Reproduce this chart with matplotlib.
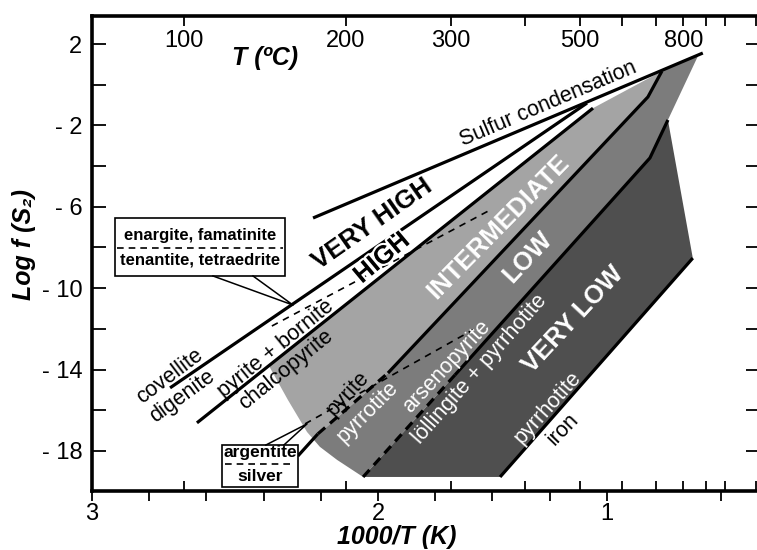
import numpy as np
import matplotlib
matplotlib.use('Agg')
import matplotlib.pyplot as plt
import matplotlib.patches as mpatches
import matplotlib.patheffects as pe

plt.rcParams['font.family'] = ['Liberation Sans', 'DejaVu Sans']

# ---- data: x = 1000/T (K), y = log f(S2) ----
# filled fields (intermediate, low, very low sulfidation)
inter_x = [2.381, 1.248, 1.007, 1.056, 1.965, 2.227, 2.248, 2.315]
inter_y = [-13.82, -1.15, 0.67, -0.60, -14.17, -17.41, -17.07, -15.49]
low_x = [2.227, 1.965, 1.056, 1.007, 0.881, 0.986, 1.049, 1.731, 2.052, 2.143, 2.203]
low_y = [-17.41, -14.17, -0.60, 0.67, 1.41, -1.73, -3.60, -14.27, -19.28, -18.44, -17.80]
vlow_x = [2.052, 1.731, 1.049, 0.986, 0.899, 1.573]
vlow_y = [-19.28, -14.27, -3.60, -1.73, -8.52, -19.28]

# solid reaction lines
sulfur_x = [2.227, 0.864]
sulfur_y = [-6.55, 1.56]
cv_dg_x = [2.727, 1.269]
cv_dg_y = [-14.90, -0.90]
bn_cp_x = [2.633, 1.248]
bn_cp_y = [-16.62, -1.15]
py_po_x = [1.965, 1.056, 1.007]
py_po_y = [-14.17, -0.60, 0.67]
lo_po_x = [1.731, 1.049, 0.986]
lo_po_y = [-14.27, -3.60, -1.73]
po_fe_x = [1.573, 0.899]
po_fe_y = [-19.28, -8.52]
arg_x = [2.280, 2.210]
arg_y = [-18.25, -17.16]

# dashed reaction lines
arg_dash_x = [2.210, 1.965]
arg_dash_y = [-17.16, -14.17]
lo_dash_x = [2.052, 1.731]
lo_dash_y = [-19.28, -14.27]
en_tn_x = [2.371, 1.608]
en_tn_y = [-11.86, -6.16]
aspy_x = [2.255, 1.668]
aspy_y = [-16.67, -12.05]

# axis ticks
x_ticks = [3.0, 2.8, 2.6, 2.4, 2.2, 2.0, 1.8, 1.6, 1.4, 1.2, 0.8]
x_labels = ['3', '', '', '', '', '2', '', '', '', '1', '']
y_ticks = [2, 0, -2, -4, -6, -8, -10, -12, -14, -16, -18]
y_labels = ['2', '', '- 2', '', '- 6', '', '- 10', '', '- 14', '', '- 18']
t_ticks = [100, 200, 300, 400, 500, 600, 700, 800, 900, 1000, 1200]
t_labels = [100, 200, 300, 500, 800]


def x_to_t(x):
    x = np.asarray(x, dtype=float)
    with np.errstate(divide='ignore'):
        return 1000.0 / x - 273.15


def t_to_x(t):
    t = np.asarray(t, dtype=float)
    with np.errstate(divide='ignore'):
        return 1000.0 / (t + 273.15)


fig = plt.figure(figsize=(7.57, 5.5), dpi=100)
ax = fig.add_axes([92 / 757, 59 / 550, 668 / 757, 475 / 550])
ax.set_xlim(3, 0.664)
ax.set_ylim(-19.97, 3.38)

for s in ax.spines.values():
    s.set_linewidth(2.6)

# fields
ax.fill(inter_x, inter_y, color='#a4a4a4', lw=0, zorder=1)
ax.fill(low_x, low_y, color='#7c7c7c', lw=0, zorder=1)
ax.fill(vlow_x, vlow_y, color='#4f4f4f', lw=0, zorder=1)

# solid lines
for xs, ys in [(sulfur_x, sulfur_y), (cv_dg_x, cv_dg_y), (bn_cp_x, bn_cp_y),
               (py_po_x, py_po_y), (lo_po_x, lo_po_y), (po_fe_x, po_fe_y),
               (arg_x, arg_y)]:
    ax.plot(xs, ys, color='black', lw=2.3, solid_capstyle='butt', zorder=3)

# thick dashed lines
for xs, ys in [(arg_dash_x, arg_dash_y), (lo_dash_x, lo_dash_y)]:
    ax.plot(xs, ys, color='black', lw=2.3, dashes=(3, 2), zorder=3)

# thin dashed lines
for xs, ys in [(en_tn_x, en_tn_y), (aspy_x, aspy_y)]:
    ax.plot(xs, ys, color='black', lw=1.2, dashes=(4, 3.5), zorder=3)

# ticks
ax.set_xticks(x_ticks)
ax.set_xticklabels(x_labels)
ax.set_yticks(y_ticks)
ax.set_yticklabels(y_labels)
ax.tick_params(axis='x', direction='out', length=7, width=1.3, labelsize=17, pad=2)
ax.tick_params(axis='y', direction='in', length=10, width=1.3, labelsize=17, pad=7,
               left=True, right=True)

# temperature ticks, top and bottom (pointing inward)
for loc in ['top', 'bottom']:
    sec = ax.secondary_xaxis(loc, functions=(x_to_t, t_to_x))
    sec.set_xticks(t_ticks)
    sec.set_xticklabels([])
    sec.tick_params(direction='in', length=7, width=1.3)
    for s in sec.spines.values():
        s.set_visible(False)

for t in t_labels:
    ax.text(t_to_x(t), 0.947, str(t), transform=ax.get_xaxis_transform(),
            ha='center', va='center', fontsize=17)

ax.text(2.395, 0.912, 'T (ºC)', transform=ax.get_xaxis_transform(),
        ha='center', va='center', fontsize=18, fontweight='bold', style='italic')
fig.text(397 / 757, 1 - 537 / 550, '1000/T (K)', ha='center', va='center',
         fontsize=18, fontweight='bold', style='italic')
fig.text(24 / 757, 1 - 245 / 550, 'Log f (S\u2082)', ha='center', va='center',
         rotation=90, fontsize=18, fontweight='bold', style='italic')

# field names
halo = [pe.withStroke(linewidth=3, foreground='white')]
big = dict(ha='center', va='center', rotation_mode='anchor', fontweight='bold',
           fontsize=18.5, zorder=5)
ax.text(2.021, -6.85, 'VERY HIGH', rotation=35, color='black', **big)
ax.text(1.986, -8.52, 'HIGH', rotation=40, color='black', path_effects=halo, **big)
ax.text(1.580, -6.99, 'INTERMEDIATE', rotation=45.5, color='white', **big)
ax.text(1.476, -8.47, 'LOW', rotation=47, color='white', **big)
ax.text(1.318, -11.56, 'VERY LOW', rotation=47, color='white', **big)

# mineral names
small = dict(ha='center', va='center', rotation_mode='anchor', fontsize=15.5, zorder=5)
ax.text(1.406, -0.95, 'Sulfur condensation', rotation=23, color='black', fontsize=15.5,
        ha='center', va='center', rotation_mode='anchor', zorder=5)
ax.text(2.727, -14.31, 'covellite', rotation=37, color='black', **small)
ax.text(2.685, -15.30, 'digenite', rotation=36, color='black', **small)
ax.text(2.357, -12.99, 'pyrite + bornite', rotation=39, color='black', **small)
ax.text(2.322, -14.02, 'chalcopyrite', rotation=39, color='black', **small)
ax.text(2.105, -15.20, 'pyrite', rotation=47, color='black', **small)
ax.text(2.035, -16.08, 'pyrrotite', rotation=45, color='white', **small)
ax.text(1.759, -13.87, 'arsenopyrite', rotation=47, color='white', **small)
ax.text(1.643, -13.97, 'löllingite + pyrrhotite', rotation=48.5, color='white', **small)
ax.text(1.406, -15.89, 'pyrrhotite', rotation=48, color='white', **small)
ax.text(1.353, -16.92, 'iron', rotation=46, color='black', **small)

# callout boxes
ax.add_patch(mpatches.Rectangle((2.920, -9.40), 2.325 - 2.920, 2.85, facecolor='white',
                                edgecolor='black', lw=1.2, zorder=6))
ax.plot([2.913, 2.332], [-8.02, -8.02], color='black', lw=1.2, dashes=(4, 3), zorder=7)
ax.text(2.622, -7.39, 'enargite, famatinite', ha='center', va='center', fontsize=12,
        fontweight='bold', zorder=7)
ax.text(2.622, -8.61, 'tenantite, tetraedrite', ha='center', va='center', fontsize=12,
        fontweight='bold', zorder=7)
ax.plot([2.577, 2.297, 2.437], [-9.40, -10.83, -9.40], color='black', lw=1.1, zorder=6)

ax.add_patch(mpatches.Rectangle((2.545, -19.77), 2.280 - 2.545, 2.06, facecolor='white',
                                edgecolor='black', lw=1.2, zorder=6))
ax.plot([2.535, 2.290], [-18.64, -18.64], color='black', lw=1.2, dashes=(4, 3), zorder=7)
ax.text(2.413, -18.10, 'argentite', ha='center', va='center', fontsize=12.5,
        fontweight='bold', zorder=7)
ax.text(2.413, -19.28, 'silver', ha='center', va='center', fontsize=12.5,
        fontweight='bold', zorder=7)
ax.plot([2.392, 2.248, 2.329], [-17.71, -16.67, -17.71], color='black', lw=1.1, zorder=6)

fig.savefig('out.png', dpi=100)
